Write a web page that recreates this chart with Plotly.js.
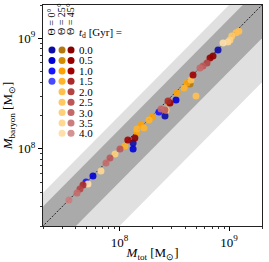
<!DOCTYPE html>
<html>
<head>
<meta charset="utf-8">
<script src="https://cdn.plot.ly/plotly-3.0.1.min.js"></script>
<style>html,body{margin:0;padding:0;background:#fff}#chart{width:269px;height:262px}</style>
</head>
<body>
<div id="chart"></div>
<script>
// ---- data ----
const mTot = [3.45e7,4.09e7,4.35e7,4.64e7,5.15e7,4.94e7,5.72e7,6.77e7,7.52e7,8.18e7,9.09e7,1.01e8,1.12e8,1.19e8,1.33e8,1.33e8,1.38e8,1.44e8,1.44e8,1.57e8,1.67e8,1.86e8,1.98e8,2.29e8,2.60e8,2.39e8,2.60e8,2.66e8,2.77e8,2.89e8,2.83e8,3.28e8,3.35e8,4.99e8,3.88e8,4.13e8,4.40e8,4.49e8,4.69e8,5.43e8,5.78e8,6.29e8,6.70e8,7.14e8,7.93e8,8.81e8,9.78e8,1.02e9,1.06e9,1.16e9,1.23e9];
const mBaryon = [3.44e7,3.98e7,4.32e7,4.70e7,4.80e7,5.00e7,5.67e7,6.29e7,7.43e7,8.24e7,8.97e7,9.95e7,1.06e8,1.20e8,1.13e8,9.95e7,1.25e8,1.39e8,1.51e8,1.64e8,1.54e8,1.82e8,1.94e8,2.15e8,1.98e8,2.29e8,2.24e8,2.24e8,2.70e8,2.59e8,2.65e8,2.76e8,3.20e8,3.00e8,3.55e8,3.94e8,3.85e8,4.19e8,4.65e8,5.38e8,5.61e8,5.97e8,6.63e8,6.91e8,7.83e8,9.06e8,9.25e8,9.64e8,1.05e9,1.12e9,1.16e9];
const thetaDeg = [45,45,45,45,25,0,0,25,45,45,25,45,25,45,0,0,45,25,25,25,25,25,25,0,0,45,45,25,45,45,25,0,25,25,25,25,25,25,45,45,45,45,45,45,0,25,25,25,25,25,25];
const tdGyr = [3.5,3.0,2.0,1.5,4.0,1.0,0.5,3.5,3.0,2.5,3.0,2.5,1.5,1.0,0.0,0.5,0.0,1.0,1.5,1.0,1.5,1.5,1.0,1.0,0.0,3.0,2.5,3.5,1.5,0.5,1.0,0.5,1.0,2.0,1.5,1.0,0.0,2.0,1.0,3.0,2.5,2.0,0.5,0.0,0.0,4.0,3.5,3.0,2.5,2.0,2.0];

const thetaList = [0,25,45];
const tdList = [0.0,0.5,1.0,1.5,2.0,2.5,3.0,3.5,4.0];
const tdLabels = ['0.0','0.5','1.0','1.5','2.0','2.5','3.0','3.5','4.0'];
const colors0 = ['#0c0ca8','#0000d8','#1515ff','#4848ff'];
const colors25 = ['#b5780e','#d48c00','#ffa200','#ffb42a','#ffc050','#ffc864','#ffd07c','#ffd894','#ffe0ac'];
const colors45 = ['#8b0000','#960000','#a00000','#aa2a2a','#b44444','#bc5858','#c46a6a','#cc7d7d','#d49292'];
const colorTable = {0:colors0, 25:colors25, 45:colors45};

const bandDark = [0.5, 1.5];
const bandLight = [0.2, 2.0];
const xRange = [2e7, 2e9];

// ---- build ----
const FONT = 'Liberation Serif, Times New Roman, serif';
const traces = [];
const ext = [1e7, 1e10];
function band(f, color){
  return {x:[ext[0],ext[1],ext[1],ext[0],ext[0]], y:[f[0]*ext[0],f[0]*ext[1],f[1]*ext[1],f[1]*ext[0],f[0]*ext[0]],
    mode:'lines', fill:'toself', fillcolor:color, line:{width:0}, hoverinfo:'skip', showlegend:false};
}
traces.push(band(bandLight,'#e0e0e0'));
traces.push(band(bandDark,'#aaaaaa'));
traces.push({x:ext, y:ext, mode:'lines', line:{color:'#000', width:0.8, dash:'2px,1.5px'}, showlegend:false, hoverinfo:'skip'});

thetaList.forEach(th=>{
  tdList.forEach((td,i)=>{
    const xs=[], ys=[];
    mTot.forEach((v,k)=>{ if(thetaDeg[k]===th && tdGyr[k]===td){xs.push(v); ys.push(mBaryon[k]);} });
    if(xs.length){
      traces.push({x:xs, y:ys, mode:'markers', marker:{size:7, color:colorTable[th][i], opacity:0.9, line:{width:0}}, showlegend:false});
    }
  });
});

// legend on overlay axes
const colX = [0.041, 0.087, 0.128];
const row0 = 0.796, rowStep = 0.0471;
thetaList.forEach((th,j)=>{
  const cols = colorTable[th];
  traces.push({x:cols.map(()=>colX[j]), y:cols.map((c,i)=>row0-i*rowStep), xaxis:'x2', yaxis:'y2', mode:'markers',
    marker:{size:7, color:cols, line:{width:0}}, cliponaxis:false, showlegend:false, hoverinfo:'skip'});
});

const annotations = [];
tdLabels.forEach((t,i)=>{
  annotations.push({xref:'paper', yref:'paper', x:0.162, y:row0-i*rowStep, text:t, showarrow:false, xanchor:'left', yanchor:'middle',
    font:{family:FONT, size:11, color:'#000'}, borderpad:0, height:10});
});
annotations.push({xref:'paper', yref:'paper', x:0.16, y:1-(33-5)/221, text:'<i>t</i><sub>d</sub> [Gyr] =', showarrow:false, xanchor:'left', yanchor:'middle',
  font:{family:FONT, size:11, color:'#000'}, borderpad:0});
thetaList.forEach((th,j)=>{
  annotations.push({xref:'paper', yref:'paper', x:colX[j], y:1-(36-5)/221, text:'Θ = '+th+'°', textangle:-90, showarrow:false, xanchor:'center', yanchor:'bottom',
    font:{family:FONT, size:10, color:'#000'}, borderpad:0});
});

function minorVals(){ const v=[]; for(let d=7; d<=9; d++) for(let k=2;k<=9;k++){const m=k*Math.pow(10,d); if(m>=xRange[0]&&m<=xRange[1]) v.push(m);} return v; }
const mv = minorVals();
function axis(title, standoff){
  return {type:'log', range:[Math.log10(xRange[0]), Math.log10(xRange[1])], tickmode:'array', tickvals:[1e8,1e9],
    ticktext:['10<sup>8</sup>','10<sup>9</sup>'], ticks:'outside', ticklen:4, tickwidth:1, tickcolor:'#000',
    showline:true, linecolor:'#222', linewidth:1, mirror:true, showgrid:false, zeroline:false,
    minor:{tickmode:'array', tickvals:mv, ticks:'outside', ticklen:2, tickwidth:0.8, tickcolor:'#000', showgrid:false},
    tickfont:{family:FONT, size:13, color:'#000'},
    title:{text:title, font:{family:FONT, size:13, color:'#000'}, standoff:standoff}, automargin:false};
}
const layout = {
  width:269, height:262, margin:{l:43, r:7, t:5, b:36}, paper_bgcolor:'#fff', plot_bgcolor:'#fff',
  showlegend:false,
  xaxis: axis('<i>M</i><sub>tot</sub> [M<sub>⊙</sub>]', 0),
  yaxis: axis('<i>M</i><sub>baryon</sub> [M<sub>⊙</sub>]', 4),
  xaxis2:{overlaying:'x', anchor:'y2', range:[0,1], visible:false, fixedrange:true},
  yaxis2:{overlaying:'y', anchor:'x2', range:[0,1], visible:false, fixedrange:true},
  annotations: annotations
};
Plotly.newPlot('chart', traces, layout, {staticPlot:true, displayModeBar:false});
</script>
</body>
</html>
